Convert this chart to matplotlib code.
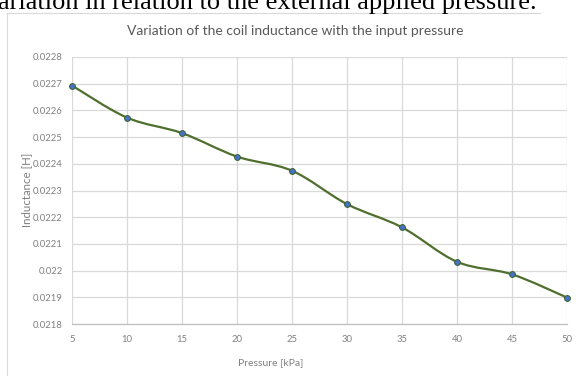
import matplotlib
matplotlib.use("Agg")
import matplotlib.pyplot as plt
from matplotlib.path import Path
from matplotlib.patches import PathPatch
from matplotlib.lines import Line2D
import numpy as np

pressure = [5, 10, 15, 20, 25, 30, 35, 40, 45, 50]
inductance = [0.022693, 0.022573, 0.022515, 0.022427, 0.022374,
              0.022249, 0.022162, 0.022033, 0.021986, 0.021899]
xticks = [5, 10, 15, 20, 25, 30, 35, 40, 45, 50]
yticks = [0.0218, 0.0219, 0.022, 0.0221, 0.0222, 0.0223, 0.0224, 0.0225, 0.0226, 0.0227, 0.0228]
ytick_labels = ["0.0218", "0.0219", "0.022", "0.0221", "0.0222", "0.0223",
                "0.0224", "0.0225", "0.0226", "0.0227", "0.0228"]

plt.rcParams['font.family'] = ['Lato', 'DejaVu Sans']

W, H = 579, 376
fig = plt.figure(figsize=(W / 100, H / 100), dpi=100)
ax = fig.add_axes([72 / W, 1 - 324 / H, (567 - 72) / W, (324 - 57) / H])

ax.set_xlim(5, 50)
ax.set_ylim(0.0218, 0.0228)
ax.set_xticks(xticks)
ax.set_xticklabels([str(t) for t in xticks])
ax.set_yticks(yticks)
ax.set_yticklabels(ytick_labels)
ax.grid(True, color='#d9d9d9', linewidth=0.9)
ax.set_axisbelow(True)
for s in ['top', 'right', 'left']:
    ax.spines[s].set_visible(False)
ax.spines['bottom'].set_color('#bfbfbf')
ax.spines['bottom'].set_linewidth(0.9)
ax.tick_params(length=0, labelsize=6.8, labelcolor='#808080')
ax.tick_params(axis='y', pad=6.5)
ax.tick_params(axis='x', pad=8)

# smoothed line (Excel-style Bezier through the data points)
x = np.array(pressure, dtype=float)
y = np.array(inductance, dtype=float)
n = len(x)
verts = [(x[0], y[0])]
codes = [Path.MOVETO]
for i in range(n - 1):
    xp, yp = (x[i - 1], y[i - 1]) if i > 0 else (x[i], y[i])
    xn2, yn2 = (x[i + 2], y[i + 2]) if i + 2 < n else (x[i + 1], y[i + 1])
    c1 = (x[i] + (x[i + 1] - xp) / 6, y[i] + (y[i + 1] - yp) / 6)
    c2 = (x[i + 1] - (xn2 - x[i]) / 6, y[i + 1] - (yn2 - y[i]) / 6)
    verts += [c1, c2, (x[i + 1], y[i + 1])]
    codes += [Path.CURVE4] * 3
patch = PathPatch(Path(verts, codes), facecolor='none', edgecolor='#4f6f2f',
                  linewidth=1.6, zorder=3, capstyle='round', joinstyle='round')
patch.set_clip_on(False)
ax.add_patch(patch)
ax.plot(pressure, inductance, linestyle='none', marker='o', markersize=4.2,
        markerfacecolor='#4472c4', markeredgecolor='#3f5f2a', markeredgewidth=0.7,
        zorder=4, clip_on=False)

fig.text(295 / W, 1 - 31 / H, 'Variation of the coil inductance with the input pressure',
         ha='center', va='center', fontsize=10, color='#595959')
fig.text(271 / W, 1 - 363 / H, 'Pressure [kPa]', ha='center', va='center',
         fontsize=7.5, color='#808080')
fig.text(27 / W, 1 - 190 / H, 'Inductance [H]', ha='center', va='center',
         rotation=90, fontsize=8.3, color='#808080')

# cropped caption text from the page above the chart
fig.text(-2 / W, 1 - 9 / H, 'ariation in relation to the external applied pressure.',
         ha='left', va='baseline', fontsize=19, family='Liberation Serif', color='black')

# chart border (light gray)
fig.add_artist(Line2D([7 / W, 540 / W], [1 - 13 / H, 1 - 13 / H], color='#d9d9d9', linewidth=0.8))
fig.add_artist(Line2D([7 / W, 7 / W], [1 - 13 / H, 0], color='#d9d9d9', linewidth=0.8))

fig.savefig('out.png', dpi=100)
